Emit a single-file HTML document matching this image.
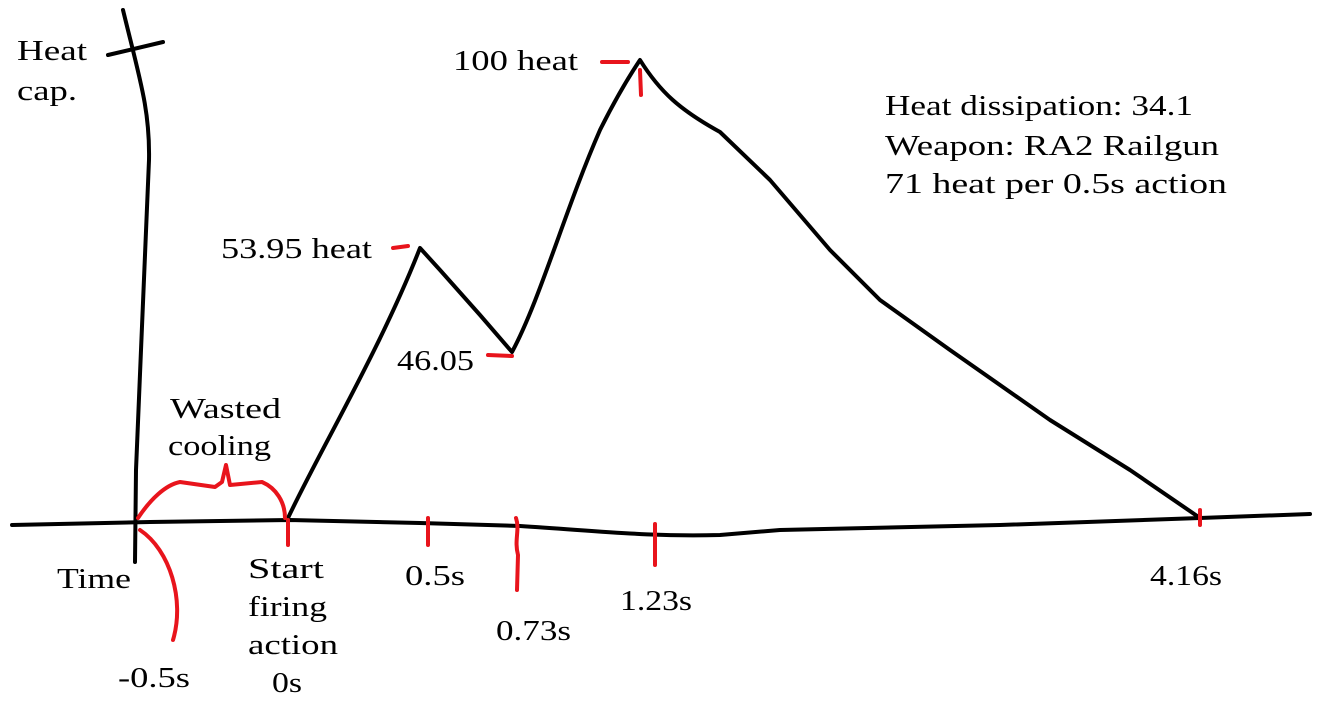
<!DOCTYPE html>
<html><head><meta charset="utf-8"><style>
html,body{margin:0;padding:0;background:#fff;}
svg{display:block;}
text{font-family:"Liberation Serif",serif;font-size:28px;fill:#000;}
</style></head><body>
<svg width="1339" height="718" viewBox="0 0 1339 718" xmlns="http://www.w3.org/2000/svg">
<g fill="none" stroke="#000" stroke-width="4" stroke-linecap="round" stroke-linejoin="round">
<path d="M123,10 C140,80 150,110 149,160 L141,350 L136,470 L135,562"/>
<path d="M108,55 L163,42"/>
<path d="M12,525 L150,522 L290,520 L420,523 L520,526 C600,531 650,537 720,535 L780,530 L1000,525 L1200,518 L1310,514"/>
<path d="M288,518 C320,450 380,350 420,248 L440,270 L480,315 L512,352 C540,300 565,210 600,130 C615,100 630,75 640,60 C660,92 680,110 720,132 L770,180 L830,250 L880,300 L950,350 L1050,420 L1130,470 L1200,518"/>
</g>
<g fill="none" stroke="#e8141c" stroke-width="4" stroke-linecap="round" stroke-linejoin="round">
<path d="M140,530 C170,550 185,600 173,640"/>
<path d="M138,518 C150,500 165,485 180,482 L215,487 L222,482 L226,465 L230,485 L262,482 C276,488 285,502 285,518"/>
<path d="M288,520 L288,545"/>
<path d="M428,518 L428,545"/>
<path d="M516,518 C520,530 514,540 518,555 L517,590"/>
<path d="M655,524 L655,565"/>
<path d="M1200,510 L1200,525"/>
<path d="M602,62 L628,62"/>
<path d="M640,70 L641,95"/>
<path d="M393,248 L408,246"/>
<path d="M488,355 L512,356"/>
</g>
<g>
<text x="17" y="60" textLength="70" lengthAdjust="spacingAndGlyphs">Heat</text>
<text x="17" y="100" textLength="60" lengthAdjust="spacingAndGlyphs">cap.</text>
<text x="453" y="70" textLength="125" lengthAdjust="spacingAndGlyphs">100 heat</text>
<text x="221" y="258" textLength="151" lengthAdjust="spacingAndGlyphs">53.95 heat</text>
<text x="397" y="370" textLength="77" lengthAdjust="spacingAndGlyphs">46.05</text>
<text x="170" y="418" textLength="111" lengthAdjust="spacingAndGlyphs">Wasted</text>
<text x="168" y="455" textLength="103" lengthAdjust="spacingAndGlyphs">cooling</text>
<text x="57" y="588" textLength="74" lengthAdjust="spacingAndGlyphs">Time</text>
<text x="248" y="578" textLength="76" lengthAdjust="spacingAndGlyphs">Start</text>
<text x="248" y="616" textLength="79" lengthAdjust="spacingAndGlyphs">firing</text>
<text x="248" y="654" textLength="90" lengthAdjust="spacingAndGlyphs">action</text>
<text x="272" y="692" textLength="30" lengthAdjust="spacingAndGlyphs">0s</text>
<text x="118" y="687" textLength="72" lengthAdjust="spacingAndGlyphs">-0.5s</text>
<text x="405" y="585" textLength="60" lengthAdjust="spacingAndGlyphs">0.5s</text>
<text x="496" y="640" textLength="75" lengthAdjust="spacingAndGlyphs">0.73s</text>
<text x="620" y="610" textLength="72" lengthAdjust="spacingAndGlyphs">1.23s</text>
<text x="1150" y="585" textLength="72" lengthAdjust="spacingAndGlyphs">4.16s</text>
<text x="885" y="115" textLength="308" lengthAdjust="spacingAndGlyphs">Heat dissipation: 34.1</text>
<text x="885" y="155" textLength="334" lengthAdjust="spacingAndGlyphs">Weapon: RA2 Railgun</text>
<text x="885" y="193" textLength="342" lengthAdjust="spacingAndGlyphs">71 heat per 0.5s action</text>
</g>
</svg>
</body></html>
